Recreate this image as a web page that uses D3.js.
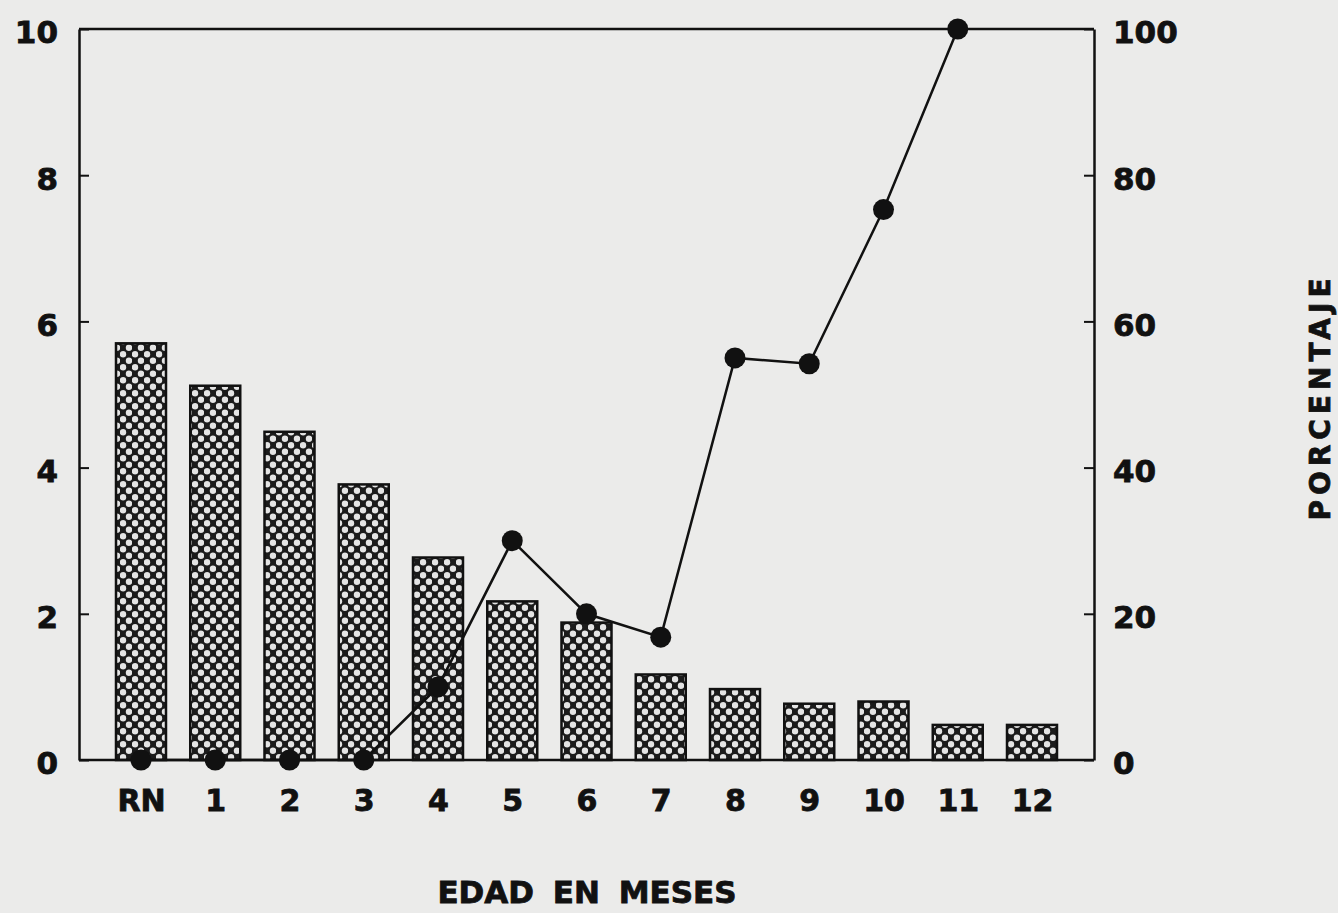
<!DOCTYPE html>
<html>
<head>
<meta charset="utf-8">
<script src="https://cdn.jsdelivr.net/npm/d3@7.9.0/dist/d3.min.js"></script>
<style>
  html, body { margin: 0; padding: 0; background: #ebebea; }
  svg { display: block; }
  .lbl { font-family: "DejaVu Sans", sans-serif; font-weight: bold; fill: #111; stroke: #111; stroke-width: 0.8px; }
</style>
</head>
<body>
<svg id="chart" width="1338" height="913"></svg>
<script>
// chart data
const categories = ['RN', '1', '2', '3', '4', '5', '6', '7', '8', '9', '10', '11', '12'];
const barValues = [5.7, 5.12, 4.49, 3.77, 2.77, 2.17, 1.88, 1.17, 0.97, 0.77, 0.8, 0.48, 0.48];
const pctValues = [0, 0, 0, 0, 10, 30, 20, 16.8, 55, 54.2, 75.3, 100];
const leftTicks = [0, 2, 4, 6, 8, 10];
const rightTicks = [0, 20, 40, 60, 80, 100];

const svg = d3.select('#chart');
const L = 79, R = 1094, T = 29, B = 760;

const x = d3.scalePoint().domain(categories).range([L, R]).padding(0.835);
const yL = d3.scaleLinear().domain([0, 10]).range([B, T]);
const yR = d3.scaleLinear().domain([0, 100]).range([B, T]);

// dotted crosshatch fill like the printed bars
const defs = svg.append('defs');
const pat = defs.append('pattern')
  .attr('id', 'hatch')
  .attr('patternUnits', 'userSpaceOnUse')
  .attr('width', 12).attr('height', 13);
pat.append('rect').attr('width', 12).attr('height', 13).attr('fill', '#1b1b1b');
pat.append('circle').attr('cx', 3).attr('cy', 3.25).attr('r', 3.2).attr('fill', '#e4e4e4');
pat.append('circle').attr('cx', 9).attr('cy', 9.75).attr('r', 3.2).attr('fill', '#e4e4e4');

const barW = 50;
svg.append('g').selectAll('rect')
  .data(barValues)
  .join('rect')
  .attr('x', (d, i) => x(categories[i]) - barW / 2)
  .attr('y', d => yL(d))
  .attr('width', barW)
  .attr('height', d => B - yL(d))
  .attr('fill', 'url(#hatch)')
  .attr('stroke', '#111')
  .attr('stroke-width', 2.5);

// frame: top and bottom lines
svg.append('line').attr('x1', L).attr('x2', R).attr('y1', T).attr('y2', T)
  .attr('stroke', '#111').attr('stroke-width', 2.5);
svg.append('line').attr('x1', L).attr('x2', R).attr('y1', B).attr('y2', B)
  .attr('stroke', '#111').attr('stroke-width', 2.5);

// left and right axes, ticks pointing inward
const gL = svg.append('g').attr('transform', `translate(${L},0)`)
  .call(d3.axisLeft(yL).tickValues(leftTicks).tickSizeInner(-10).tickSizeOuter(0).tickPadding(21));
const gR = svg.append('g').attr('transform', `translate(${R},0)`)
  .call(d3.axisRight(yR).tickValues(rightTicks).tickSizeInner(-10).tickSizeOuter(0).tickPadding(19));
[gL, gR].forEach(g => {
  g.select('.domain').attr('stroke', '#111').attr('stroke-width', 2.5);
  g.selectAll('.tick line').attr('stroke', '#111').attr('stroke-width', 2);
  g.selectAll('.tick text')
    .attr('class', 'lbl')
    .attr('dy', '0.45em')
    .style('font-size', '31px');
});

// bottom category labels
const gB = svg.append('g').attr('transform', `translate(0,${B})`)
  .call(d3.axisBottom(x).tickSize(0).tickPadding(30));
gB.select('.domain').remove();
gB.selectAll('.tick text').attr('class', 'lbl').style('font-size', '30px');

// percentage line
const line = d3.line()
  .x((d, i) => x(categories[i]))
  .y(d => yR(d));
svg.append('path')
  .datum(pctValues)
  .attr('d', line)
  .attr('fill', 'none')
  .attr('stroke', '#111')
  .attr('stroke-width', 2.5);
svg.append('g').selectAll('circle')
  .data(pctValues)
  .join('circle')
  .attr('cx', (d, i) => x(categories[i]))
  .attr('cy', d => yR(d))
  .attr('r', 10.5)
  .attr('fill', '#111');

// axis titles
svg.append('text').attr('class', 'lbl')
  .attr('x', 587).attr('y', 903)
  .attr('text-anchor', 'middle')
  .style('font-size', '31px')
  .style('word-spacing', '8px')
  .text('EDAD EN MESES');
svg.append('text').attr('class', 'lbl')
  .attr('transform', 'translate(1330,397) rotate(-90)')
  .attr('text-anchor', 'middle')
  .style('font-size', '28px')
  .style('letter-spacing', '5px')
  .text('PORCENTAJE');
</script>
</body>
</html>
